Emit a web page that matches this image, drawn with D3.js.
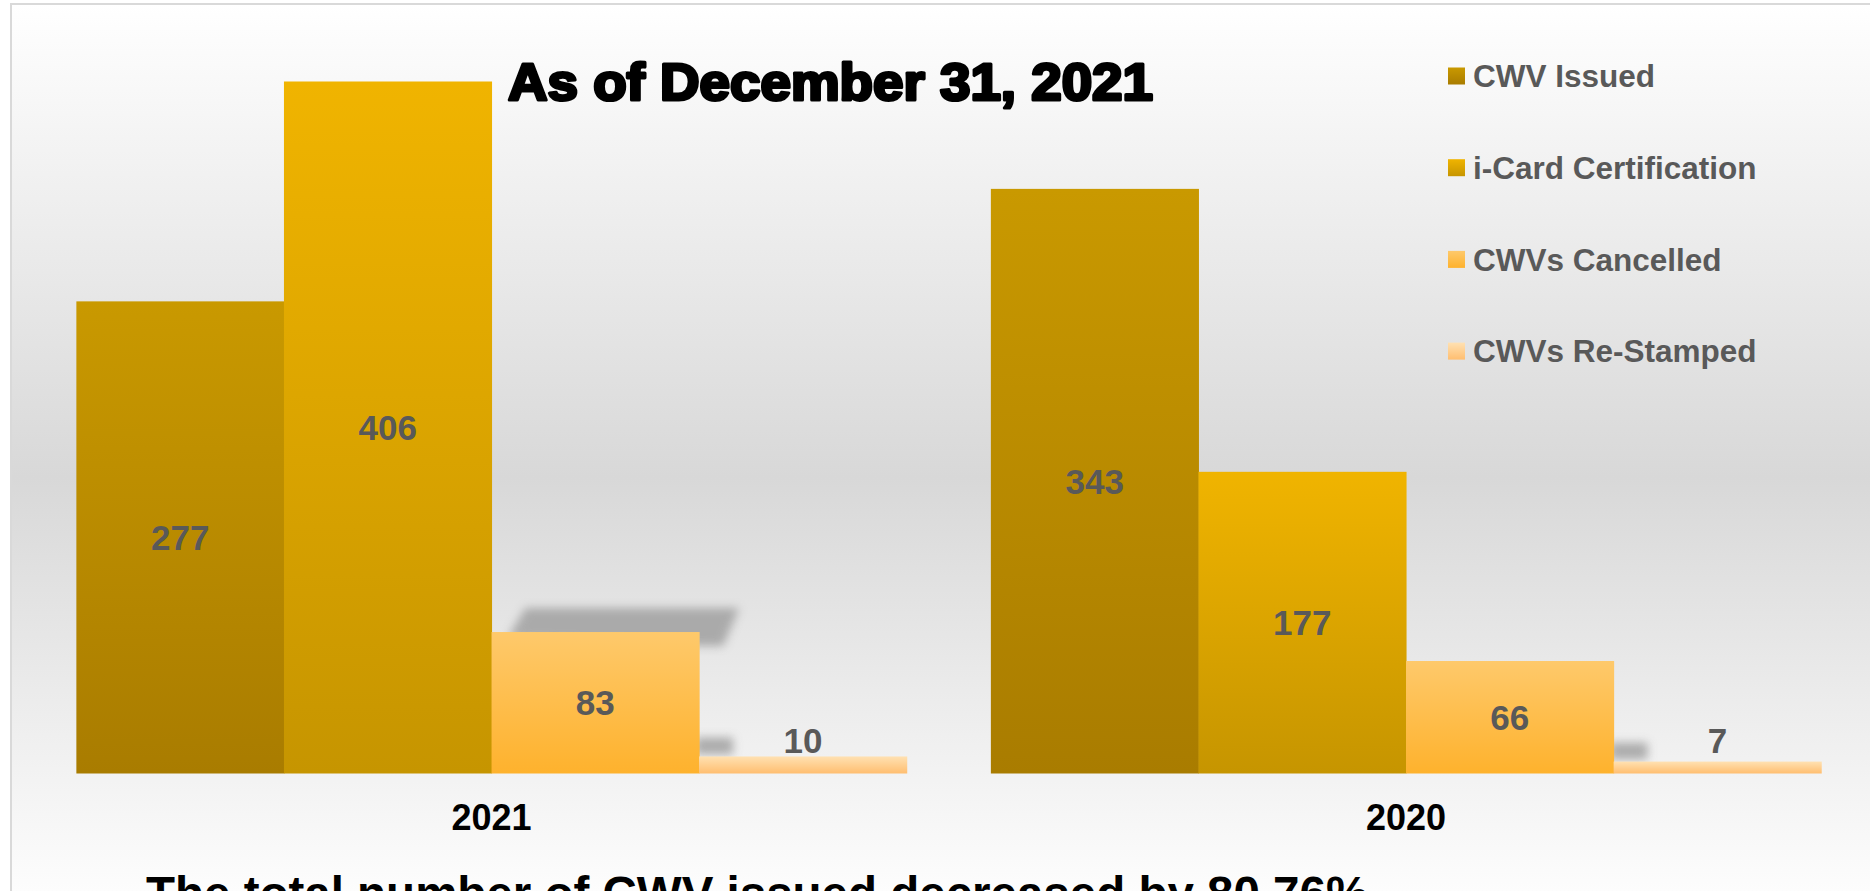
<!DOCTYPE html>
<html>
<head>
<meta charset="utf-8">
<script src="https://cdn.jsdelivr.net/npm/d3@7"></script>
<style>
  body { margin: 0; background: #ffffff; overflow: hidden; }
  svg { display: block; font-family: "Liberation Sans", Arial, sans-serif; }
</style>
</head>
<body>
<div id="chart"></div>
<script>
// chart data
const years = ['2021', '2020'];
const seriesNames = ['CWV Issued', 'i-Card Certification', 'CWVs Cancelled', 'CWVs Re-Stamped'];
const values2021 = [277, 406, 83, 10];
const values2020 = [343, 177, 66, 7];
const yMax = 450;
const titleText = 'As of December 31, 2021';
const footText = 'The total number of CWV issued decreased by 80.76%';

const width = 1870, height = 891;

// gradient stops per series (top, bottom)
const seriesColors = [
  ['#c99900', '#a97c00'],
  ['#f0b400', '#c69500'],
  ['#fec96b', '#feb22d'],
  ['#ffe1b2', '#ffbe70']
];

const data = years.map((yr, i) => ({
  year: yr,
  values: (i === 0 ? values2021 : values2020).map((v, j) => ({ year: yr, series: seriesNames[j], idx: j, value: v }))
}));

const svg = d3.select('#chart').append('svg')
  .attr('width', width)
  .attr('height', height);

const defs = svg.append('defs');

// background gradient
const bg = defs.append('linearGradient')
  .attr('id', 'bg-grad')
  .attr('x1', 0).attr('y1', 0).attr('x2', 0).attr('y2', 1);
bg.append('stop').attr('offset', '0%').attr('stop-color', '#ffffff');
bg.append('stop').attr('offset', '52%').attr('stop-color', '#d8d8d8');
bg.append('stop').attr('offset', '100%').attr('stop-color', '#ffffff');

seriesColors.forEach((c, i) => {
  const g = defs.append('linearGradient')
    .attr('id', 'bar-grad-' + i)
    .attr('x1', 0).attr('y1', 0).attr('x2', 0).attr('y2', 1);
  g.append('stop').attr('offset', '0%').attr('stop-color', c[0]);
  g.append('stop').attr('offset', '100%').attr('stop-color', c[1]);
});

defs.append('filter')
  .attr('id', 'blur')
  .attr('filterUnits', 'userSpaceOnUse')
  .attr('x', 0).attr('y', 0).attr('width', width).attr('height', height)
  .append('feGaussianBlur').attr('stdDeviation', 5);

// frame with background
svg.append('rect')
  .attr('x', 11).attr('y', 4)
  .attr('width', width + 20).attr('height', height + 20)
  .attr('fill', 'url(#bg-grad)')
  .attr('stroke', '#d9d9d9')
  .attr('stroke-width', 2);

// scales
const x0 = d3.scaleBand()
  .domain(years)
  .range([34.3, 1863.3])
  .paddingInner(0.092)
  .paddingOuter(0.046);

const x1 = d3.scaleBand()
  .domain(seriesNames)
  .range([0, x0.bandwidth()]);

const y = d3.scaleLinear()
  .domain([0, yMax])
  .range([773.5, 6.5]);

const chart = svg.append('g');

// soft shadows (as seen in the original render)
const shadowG = chart.append('g').attr('filter', 'url(#blur)').attr('fill', '#a0a0a0').attr('opacity', 0.85);
const cancelled2021 = data[0].values[2];
const cx = x0('2021') + x1(cancelled2021.series);
const cTop = y(cancelled2021.value);
shadowG.append('polygon')
  .attr('points', [
    [cx + 16, cTop + 6], [cx + 34, cTop - 24], [cx + x1.bandwidth() + 40, cTop - 24],
    [cx + x1.bandwidth() + 24, cTop + 14], [cx + x1.bandwidth(), cTop + 14]
  ].map(p => p.join(',')).join(' '));
data.forEach(g => {
  const d = g.values[3];
  shadowG.append('rect')
    .attr('x', x0(g.year) + x1(d.series) - 4)
    .attr('y', y(d.value) - 19)
    .attr('width', 38)
    .attr('height', 17);
});

// bars
const groups = chart.selectAll('.year-group')
  .data(data)
  .join('g')
  .attr('class', 'year-group')
  .attr('transform', d => `translate(${x0(d.year)},0)`);

groups.selectAll('.bar')
  .data(d => d.values)
  .join('rect')
  .attr('class', 'bar')
  .attr('x', d => x1(d.series))
  .attr('y', d => y(d.value))
  .attr('width', x1.bandwidth() + 0.5)
  .attr('height', d => y(0) - y(d.value))
  .attr('fill', d => `url(#bar-grad-${d.idx})`);

// value labels: centred in tall bars, just above short ones
groups.selectAll('.bar-label')
  .data(d => d.values)
  .join('text')
  .attr('class', 'bar-label')
  .attr('x', d => x1(d.series) + x1.bandwidth() / 2)
  .attr('y', d => {
    const h = y(0) - y(d.value);
    return h > 50 ? (y(d.value) + y(0)) / 2 + 12.5 : Math.min(y(d.value) - 3, y(0) - 20.5);
  })
  .attr('text-anchor', 'middle')
  .attr('font-size', '35px')
  .attr('font-weight', 'bold')
  .attr('fill', '#595959')
  .text(d => d.value);

// category axis labels
chart.selectAll('.year-label')
  .data(years)
  .join('text')
  .attr('class', 'year-label')
  .attr('x', d => x0(d) + x0.bandwidth() / 2)
  .attr('y', 830)
  .attr('text-anchor', 'middle')
  .attr('font-size', '36px')
  .attr('font-weight', 'bold')
  .attr('fill', '#000000')
  .text(d => d);

// title
svg.append('text')
  .attr('x', 508)
  .attr('y', 100)
  .attr('font-size', '52px')
  .attr('font-weight', 'bold')
  .attr('fill', '#000000')
  .attr('stroke', '#000000')
  .attr('stroke-width', 3.2)
  .attr('stroke-linejoin', 'round')
  .attr('textLength', 645)
  .attr('lengthAdjust', 'spacingAndGlyphs')
  .text(titleText);

// legend
const legend = svg.append('g')
  .attr('transform', 'translate(1448,0)');

const legendItems = legend.selectAll('.legend-item')
  .data(seriesNames)
  .join('g')
  .attr('class', 'legend-item')
  .attr('transform', (d, i) => `translate(0,${76 + i * 91.7})`);

legendItems.append('rect')
  .attr('x', 0)
  .attr('y', -8.5)
  .attr('width', 17)
  .attr('height', 17)
  .attr('fill', (d, i) => `url(#bar-grad-${i})`);

legendItems.append('text')
  .attr('x', 25)
  .attr('y', 11.3)
  .attr('font-size', '31.5px')
  .attr('font-weight', 'bold')
  .attr('fill', '#595959')
  .text(d => d);

// footer note (cut off by the bottom edge, as in the original)
svg.append('text')
  .attr('x', 146)
  .attr('y', 910)
  .attr('font-size', '47.5px')
  .attr('font-weight', 'bold')
  .attr('fill', '#000000')
  .text(footText);
</script>
</body>
</html>
